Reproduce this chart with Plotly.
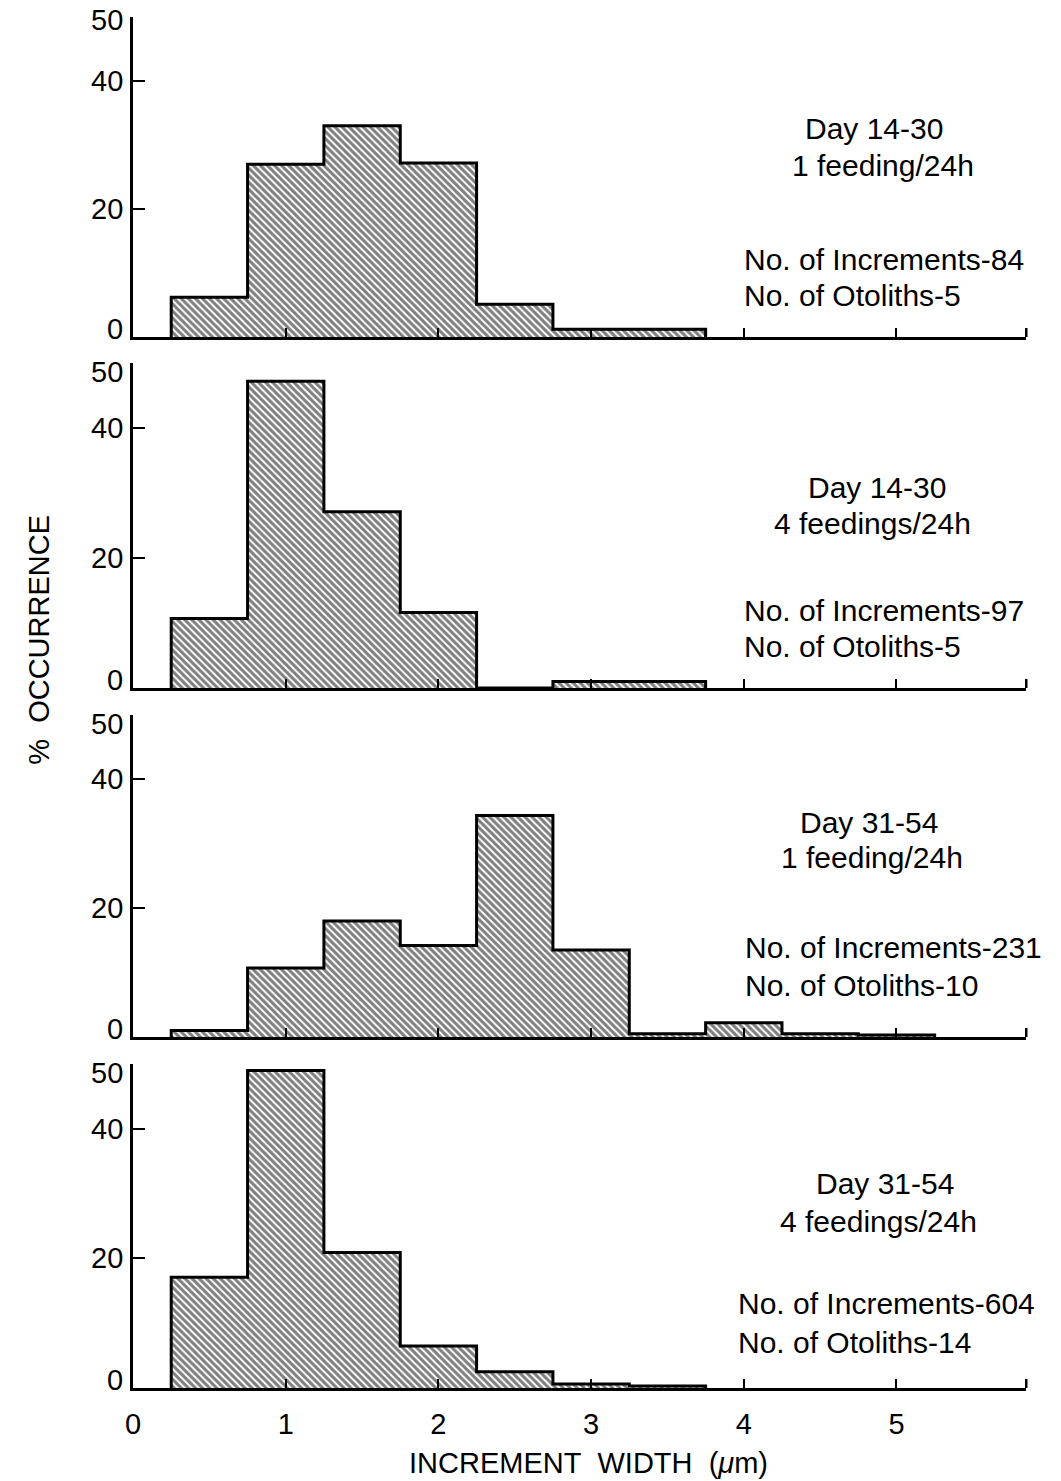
import plotly.graph_objects as go

# ---------------- data ----------------
BIN_WIDTH = 0.5
FIRST_CENTER = 0.5

p1_pct = [6.2, 27.0, 33.0, 27.2, 5.1, 1.2, 1.2]
p2_pct = [10.7, 47.2, 27.1, 11.6, 0.0, 1.0, 1.0]
p3_pct = [1.0, 10.7, 18.0, 14.2, 34.4, 13.5, 0.5, 2.2, 0.5, 0.3]
p4_pct = [17.1, 49.0, 20.9, 6.5, 2.5, 0.6, 0.3]
panels = [p1_pct, p2_pct, p3_pct, p4_pct]

panel_title1 = ["Day 14-30", "Day 14-30", "Day 31-54", "Day 31-54"]
panel_title2 = ["1 feeding/24h", "4 feedings/24h", "1 feeding/24h", "4 feedings/24h"]
panel_incr = ["No. of Increments-84", "No. of Increments-97",
              "No. of Increments-231", "No. of Increments-604"]
panel_oto = ["No. of Otoliths-5", "No. of Otoliths-5",
             "No. of Otoliths-10", "No. of Otoliths-14"]

y_ticks = [0, 20, 40, 50]
y_ticklabels = ["0", "20", "40", "50"]
x_ticks = [0, 1, 2, 3, 4, 5]
x_ticklabels = ["0", "1", "2", "3", "4", "5"]
X_MAX = 5.85
Y_MAX = 50

# ---------------- layout helpers (pixels) ----------------
W, H = 1061, 1481
FONT = "Liberation Sans, Arial, Helvetica, sans-serif"
TXT = 30
TICK = 29
x_left_px, x_right_px = 126, 1026
panel_px = [(17, 337), (363, 688), (715, 1037), (1064, 1388)]  # (top=50, bottom=0)

def px_x(p):
    return p / W

def px_y(p):
    return 1 - p / H

fig = go.Figure()

for i, vals in enumerate(panels):
    n = i + 1
    xa = "x" if n == 1 else f"x{n}"
    ya = "y" if n == 1 else f"y{n}"
    centers = [FIRST_CENTER + k * BIN_WIDTH for k in range(len(vals))]
    lefts = [c - BIN_WIDTH / 2 for c in centers]
    right_end = centers[-1] + BIN_WIDTH / 2
    fig.add_trace(go.Bar(
        x=centers, y=vals, width=BIN_WIDTH, base=0,
        marker=dict(color="white", line=dict(width=0),
                    pattern=dict(shape="\\", size=5, solidity=0.6,
                                 fgcolor="black", bgcolor="white")),
        xaxis=xa, yaxis=ya, showlegend=False, hoverinfo="skip"))
    xs = [lefts[0]] + lefts + [right_end]
    ys = [0] + list(vals) + [0]
    fig.add_trace(go.Scatter(
        x=xs, y=ys, mode="lines", line=dict(color="black", width=3, shape="hv"),
        xaxis=xa, yaxis=ya, showlegend=False, hoverinfo="skip", cliponaxis=False))

layout = dict(
    width=W, height=H, margin=dict(l=0, r=0, t=0, b=0),
    paper_bgcolor="white", plot_bgcolor="white",
    font=dict(family=FONT, color="black", size=TXT),
    bargap=0, barmode="overlay",
)

for i in range(4):
    n = i + 1
    xk = "xaxis" if n == 1 else f"xaxis{n}"
    yk = "yaxis" if n == 1 else f"yaxis{n}"
    ya = "y" if n == 1 else f"y{n}"
    xa = "x" if n == 1 else f"x{n}"
    top, bot = panel_px[i]
    last = (n == 4)
    layout[xk] = dict(
        domain=[px_x(x_left_px), px_x(x_right_px)], range=[0, X_MAX],
        anchor=ya, showline=True, linecolor="black", linewidth=2.5,
        showgrid=False, zeroline=False, ticks="inside", ticklen=9, tickwidth=2,
        tickcolor="black", tickvals=x_ticks if last else x_ticks[1:],
        ticktext=x_ticklabels if last else None,
        showticklabels=last, tickfont=dict(size=TICK, family=FONT),
        ticklabelstandoff=8, fixedrange=True)
    layout[yk] = dict(
        domain=[px_y(bot), px_y(top)], range=[0, Y_MAX], anchor=xa,
        showline=True, linecolor="black", linewidth=2.5, showgrid=False,
        zeroline=False, ticks="inside", ticklen=12, tickwidth=2, tickcolor="black",
        tickvals=y_ticks, showticklabels=False, fixedrange=True)

fig.update_layout(**layout)

# y tick labels as annotations (nudged like the printed original)
for i in range(4):
    n = i + 1
    ya = "y" if n == 1 else f"y{n}"
    for val, lab in zip(y_ticks, y_ticklabels):
        if val == 0:
            shift = 8
        elif val == Y_MAX:
            shift = -3 if n == 1 else -9
        else:
            shift = 0
        fig.add_annotation(text=lab, x=px_x(118), y=val, xref="paper", yref=ya,
                           xanchor="right", yanchor="middle", yshift=shift,
                           showarrow=False,
                           font=dict(size=TICK, family=FONT, color="black"))

# right end tick of each x axis
for i in range(4):
    n = i + 1
    xa = "x" if n == 1 else f"x{n}"
    ya = "y" if n == 1 else f"y{n}"
    fig.add_shape(type="line", xref=f"{xa} domain", yref=ya, x0=1, x1=1, y0=0, y1=1.4,
                  line=dict(color="black", width=2.5))

# panel texts
title1_pos = [(873, 128), (876, 488), (868, 822), (884, 1183)]
title2_pos = [(882, 165), (871, 523), (871, 858), (877, 1221)]
incr_pos = [(740, 259), (740, 610), (741, 947), (734, 1303)]
oto_pos = [(740, 296), (740, 647), (741, 985), (734, 1342)]

for i in range(4):
    for txt, (px, py), anchor in [
        (panel_title1[i], title1_pos[i], "center"),
        (panel_title2[i], title2_pos[i], "center"),
        (panel_incr[i], incr_pos[i], "left"),
        (panel_oto[i], oto_pos[i], "left")]:
        fig.add_annotation(text=txt, x=px_x(px), y=px_y(py), xref="paper", yref="paper",
                           xanchor=anchor, yanchor="middle", showarrow=False,
                           font=dict(size=TXT, family=FONT, color="black"))

# axis titles
fig.add_annotation(text="INCREMENT\u00a0\u00a0WIDTH\u00a0\u00a0(<i>\u03bc</i>m)",
                   x=px_x(585), y=px_y(1463), xref="paper", yref="paper",
                   xanchor="center", yanchor="middle", showarrow=False,
                   font=dict(size=29, family=FONT, color="black"))
fig.add_annotation(text="%\u00a0\u00a0OCCURRENCE", textangle=-90,
                   x=px_x(31), y=px_y(640), xref="paper", yref="paper",
                   xanchor="center", yanchor="middle", showarrow=False,
                   font=dict(size=29, family=FONT, color="black"))

fig.write_html("out.html")
